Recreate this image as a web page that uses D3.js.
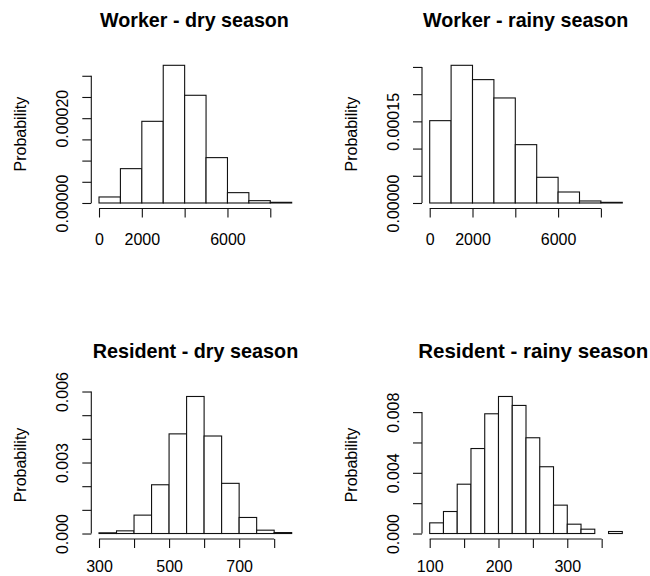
<!DOCTYPE html>
<html>
<head>
<meta charset="utf-8">
<script src="https://cdn.jsdelivr.net/npm/d3@7"></script>
<style>
  html, body { margin: 0; padding: 0; background: #fff; }
  svg { display: block; }
  text { font-family: "Liberation Sans", Arial, Helvetica, sans-serif; fill: #000; }
</style>
</head>
<body>
<svg id="chart" width="650" height="576"></svg>
<script>
// ---------- DATA ----------
const titles = ["Worker - dry season", "Worker - rainy season", "Resident - dry season", "Resident - rainy season"];
const yLabel = "Probability";

// Panel 1: Worker - dry season
const workerDryBreaks = [0, 1000, 2000, 3000, 4000, 5000, 6000, 7000, 8000, 9000];
const workerDryDensity = [0.0000142, 0.000081, 0.0001926, 0.0003247, 0.000254, 0.000107, 0.0000244, 0.0000055, 0.0000016];
const workerDryXTicks = [0, 2000, 4000, 6000, 8000];
const workerDryXLabels = ["0", "2000", "", "6000", ""];
const workerDryYTicks = [0, 0.00005, 0.0001, 0.00015, 0.0002, 0.00025, 0.0003];
const workerDryYLabels = ["0.00000", "", "", "", "0.00020", "", ""];

// Panel 2: Worker - rainy season
const workerRainyBreaks = [0, 1000, 2000, 3000, 4000, 5000, 6000, 7000, 8000, 9000];
const workerRainyDensity = [0.0001513, 0.000253, 0.0002267, 0.000193, 0.0001072, 0.0000472, 0.0000202, 0.0000037, 0.0000012];
const workerRainyXTicks = [0, 2000, 4000, 6000, 8000];
const workerRainyXLabels = ["0", "2000", "", "6000", ""];
const workerRainyYTicks = [0, 0.00005, 0.0001, 0.00015, 0.0002, 0.00025];
const workerRainyYLabels = ["0.00000", "", "", "0.00015", "", ""];

// Panel 3: Resident - dry season
const residentDryBreaks = [300, 350, 400, 450, 500, 550, 600, 650, 700, 750, 800, 850];
const residentDryDensity = [0.00003, 0.000113, 0.000777, 0.00206, 0.00421, 0.00579, 0.00412, 0.00212, 0.000678, 0.000141, 0.00004];
const residentDryXTicks = [300, 400, 500, 600, 700, 800];
const residentDryXLabels = ["300", "", "500", "", "700", ""];
const residentDryYTicks = [0, 0.001, 0.002, 0.003, 0.004, 0.005, 0.006];
const residentDryYLabels = ["0.000", "", "", "0.003", "", "", "0.006"];

// Panel 4: Resident - rainy season
const residentRainyBreaks = [100, 120, 140, 160, 180, 200, 220, 240, 260, 280, 300, 320, 340, 360, 380];
const residentRainyDensity = [0.000703, 0.00145, 0.00325, 0.0056, 0.00789, 0.00903, 0.00844, 0.00631, 0.0044, 0.00187, 0.000615, 0.000286, 0, 0.000132];
const residentRainyXTicks = [100, 150, 200, 250, 300, 350];
const residentRainyXLabels = ["100", "", "200", "", "300", ""];
const residentRainyYTicks = [0, 0.002, 0.004, 0.006, 0.008];
const residentRainyYLabels = ["0.000", "", "0.004", "", "0.008"];

// ---------- LAYOUT ----------
const panels = [
  { title: titles[0], breaks: workerDryBreaks, dens: workerDryDensity, xt: workerDryXTicks, xl: workerDryXLabels, yt: workerDryYTicks, yl: workerDryYLabels, col: 0, row: 0, tSize: 19.7, tDx: -0.9 },
  { title: titles[1], breaks: workerRainyBreaks, dens: workerRainyDensity, xt: workerRainyXTicks, xl: workerRainyXLabels, yt: workerRainyYTicks, yl: workerRainyYLabels, col: 1, row: 0, tSize: 19.7, tDx: -0.3 },
  { title: titles[2], breaks: residentDryBreaks, dens: residentDryDensity, xt: residentDryXTicks, xl: residentDryXLabels, yt: residentDryYTicks, yl: residentDryYLabels, col: 0, row: 1, tSize: 19.8, tDx: 0.1 },
  { title: titles[3], breaks: residentRainyBreaks, dens: residentRainyDensity, xt: residentRainyXTicks, xl: residentRainyXLabels, yt: residentRainyYTicks, yl: residentRainyYLabels, col: 1, row: 1, tSize: 20.5, tDx: 7.3 }
];

const colX = [[91.3, 299.4], [422, 630]];   // plot region left/right
const rowY = [[59.8, 208.5], [391, 539]];    // plot region top/bottom
const xLabelOffset = [36, 33];               // baseline offset below axis per row

const svg = d3.select("#chart");
svg.append("rect").attr("width", 650).attr("height", 576).attr("fill", "#fff");

function ext(lo, hi) { const d = (hi - lo) * 0.04; return [lo - d, hi + d]; }

panels.forEach(p => {
  const [L, R] = colX[p.col];
  const [T, B] = rowY[p.row];
  const x = d3.scaleLinear().domain(ext(p.breaks[0], p.breaks[p.breaks.length - 1])).range([L, R]);
  const y = d3.scaleLinear().domain(ext(0, d3.max(p.dens))).range([B, T]);

  const g = svg.append("g");

  // bars
  const bins = p.dens.map((v, i) => ({ x0: p.breaks[i], x1: p.breaks[i + 1], v }));
  g.selectAll("rect.bar").data(bins.filter(b => b.v > 0)).enter().append("rect")
    .attr("class", "bar")
    .attr("x", d => x(d.x0))
    .attr("width", d => x(d.x1) - x(d.x0))
    .attr("y", d => y(d.v))
    .attr("height", d => y(0) - y(d.v))
    .attr("fill", "#fff")
    .attr("stroke", "#111")
    .attr("stroke-width", 1.1);

  // x axis
  const xAxis = d3.axisBottom(x).tickValues(p.xt).tickSize(9).tickSizeOuter(0)
    .tickFormat((d, i) => p.xl[i]);
  const gx = g.append("g").attr("transform", `translate(0,${B})`).call(xAxis);
  gx.select(".domain").remove();
  gx.append("line").attr("x1", x(p.xt[0])).attr("x2", x(p.xt[p.xt.length - 1]))
    .attr("y1", 0).attr("y2", 0).attr("stroke", "#111").attr("stroke-width", 1.1);
  gx.selectAll(".tick line").attr("stroke", "#111").attr("stroke-width", 1.1);
  gx.selectAll(".tick text").attr("y", xLabelOffset[p.row]).attr("dy", 0)
    .style("font-size", "16px").style("font-family", '"Liberation Sans", Arial, sans-serif').attr("fill", "#000");

  // y axis
  const yAxis = d3.axisLeft(y).tickValues(p.yt).tickSize(9).tickSizeOuter(0)
    .tickFormat((d, i) => p.yl[i]);
  const gy = g.append("g").attr("transform", `translate(${L},0)`).call(yAxis);
  gy.select(".domain").remove();
  gy.append("line").attr("y1", y(p.yt[0])).attr("y2", y(p.yt[p.yt.length - 1]))
    .attr("x1", 0).attr("x2", 0).attr("stroke", "#111").attr("stroke-width", 1.1);
  gy.selectAll(".tick line").attr("stroke", "#111").attr("stroke-width", 1.1);
  gy.selectAll(".tick text").attr("x", 0).attr("dy", 0).attr("text-anchor", "middle")
    .attr("transform", "translate(-23,0) rotate(-90)")
    .style("font-size", "16px").style("font-family", '"Liberation Sans", Arial, sans-serif').attr("fill", "#000");

  // y label
  g.append("text")
    .attr("transform", `translate(${L - 65.3},${(T + B) / 2}) rotate(-90)`)
    .attr("text-anchor", "middle")
    .style("font-size", "16px")
    .text(yLabel);

  // title
  g.append("text")
    .attr("x", (L + R) / 2 + p.tDx)
    .attr("y", T - 33.1)
    .attr("text-anchor", "middle")
    .style("font-size", p.tSize + "px")
    .style("font-weight", "bold")
    .text(p.title);
});
</script>
</body>
</html>
